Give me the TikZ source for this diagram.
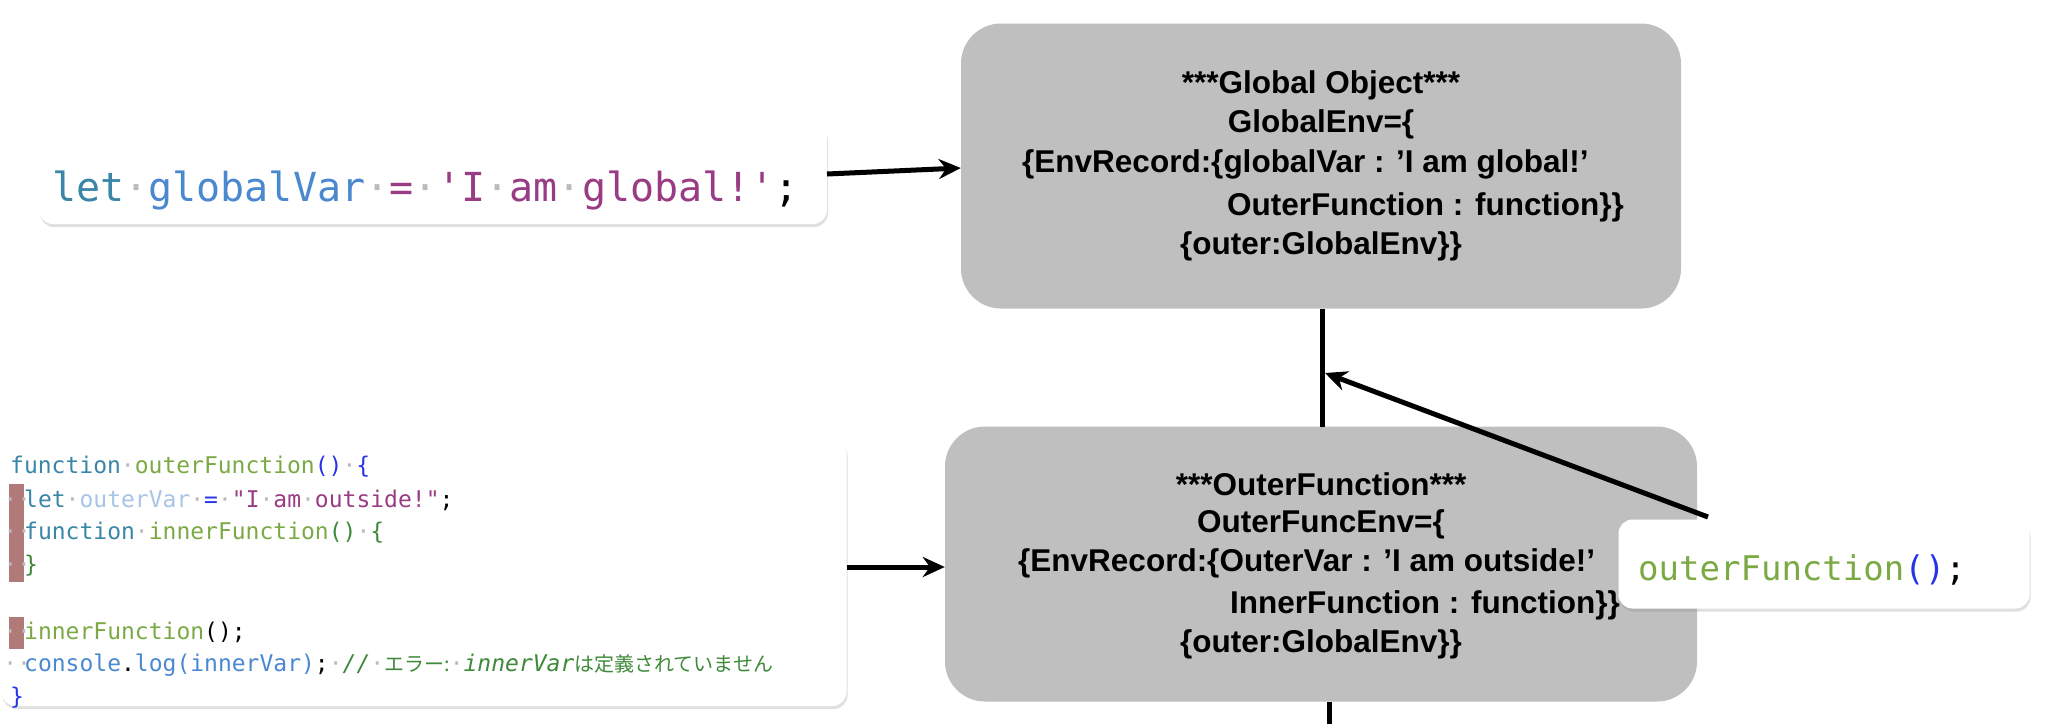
\documentclass[tikz,border=0pt]{standalone}
\usepackage{fontspec}
\setmainfont{Liberation Sans}[Ligatures=ResetAll]
\setmonofont{DejaVu Sans Mono}
\newfontfamily\cjk{Noto Sans CJK JP}
\usetikzlibrary{shadows,arrows.meta}
\definecolor{kw}{HTML}{3A86A8}
\definecolor{fn}{HTML}{7BAA45}
\definecolor{pb}{HTML}{2633E8}
\definecolor{vr}{HTML}{4A88D0}
\definecolor{lv}{HTML}{A8C4E6}
\definecolor{st}{HTML}{9A3C84}
\definecolor{dg}{HTML}{3F8A3A}
\definecolor{rose}{HTML}{B07A78}
\definecolor{dt}{HTML}{BBBBBB}
\tikzset{
 env/.style={fill=black!25,rounded corners=40pt,draw=none},
 card/.style={fill=white,rounded corners=14pt,drop shadow={opacity=0.25,shadow xshift=1pt,shadow yshift=-3pt}},
 lbl/.style={font=\bfseries\fontsize{31.5}{36}\selectfont,inner sep=0pt},
 code/.style={font=\ttfamily\fontsize{23}{28}\selectfont,inner sep=0pt,anchor=west},
 conn/.style={line width=5pt,-{Stealth[length=22pt,width=20pt]}},
 plain/.style={line width=5pt}
}
\newcommand{\dd}{\textcolor{dt}{·}}
\newcommand{\ind}{\textcolor{dt}{\makebox[14pt]{··}}}
\begin{document}
\begin{tikzpicture}[x=1pt,y=-1pt]
\useasboundingbox (0,0) rectangle (2052,724);
% Global env box
\node[env,minimum width=720pt,minimum height=285pt] (g) at (1321,166) {};
\node[lbl] (g1) at (1321,85) {***Global Object***};
\node[lbl] (g2) at (1321,124) {GlobalEnv=\{};
\node[lbl,anchor=west] (g3) at (1022,164) {\{EnvRecord:\{globalVar : 'I am global!'};
\node[lbl,anchor=west] (g4) at (1227,207) {OuterFunction : function\}\}};
\node[lbl] (g5) at (1321,246) {\{outer:GlobalEnv\}\}};
% Outer env box
\node[env,minimum width=752pt,minimum height=275pt] (o) at (1321,564) {};
\node[lbl] (o1) at (1321,484) {***OuterFunction***};
\node[lbl] (o2) at (1321,524) {OuterFuncEnv=\{};
\node[lbl,anchor=west] (o3) at (1018,563) {\{EnvRecord:\{OuterVar : 'I am outside!'};
\node[lbl,anchor=west] (o4) at (1230,605) {InnerFunction : function\}\}};
\node[lbl] (o5) at (1321,644) {\{outer:GlobalEnv\}\}};
% top snippet
\node[card,minimum width=788pt,minimum height=100pt] (s1) at (433,174) {};
\node[code,font=\ttfamily\fontsize{40}{46}\selectfont] (s1t) at (52,190) {\textcolor{kw}{let}\dd\textcolor{vr}{globalVar}\dd\textcolor{st}{=}\dd\textcolor{st}{'I\dd am\dd global!'};};
% left code
\node[card,minimum width=845pt,minimum height=268pt] (s2) at (424,572) {};
\fill[rose] (9,484) rectangle (24,582);
\fill[rose] (9,617) rectangle (24,649);
\node[code] (c1) at (10,467) {\textcolor{kw}{function}\dd\textcolor{fn}{outerFunction}\textcolor{pb}{()}\dd\textcolor{pb}{\{}};
\node[code] (c2) at (10,500) {\ind\textcolor{kw}{let}\dd\textcolor{lv}{outerVar}\dd\textcolor{pb}{=}\dd\textcolor{st}{"I\dd am\dd outside!"};};
\node[code] (c3) at (10,533) {\ind\textcolor{kw}{function}\dd\textcolor{fn}{innerFunction}\textcolor{dg}{()}\dd\textcolor{dg}{\{}};
\node[code] (c4) at (10,566) {\ind\textcolor{dg}{\}}};
\node[code] (c5) at (10,632) {\ind\textcolor{fn}{innerFunction}();};
\node[code] (c6) at (10,665) {\ind\textcolor{vr}{console}.\textcolor{vr}{log(innerVar)};\dd\textcolor{dg}{\textit{//}\dd{\cjk\fontsize{20}{24}\selectfont エラー:}\dd\textit{innerVar}{\cjk\fontsize{20}{24}\selectfont は定義されていません}}};
\node[code] (c7) at (10,698) {\textcolor{pb}{\}}};
% call snippet
\node[card,minimum width=411pt,minimum height=89pt] (s3) at (1824,564) {};
\node[code,font=\ttfamily\fontsize{34}{40}\selectfont] (s3t) at (1638,570) {\textcolor{fn}{outerFunction}\textcolor{pb}{()};};
% connectors
\coordinate (hit) at (1325,373);
\coordinate (bot) at (1329,724);
\coordinate (ostart) at (1708,517);
\draw[plain] (1322,309) -- (1322,427);
\draw[plain] (1329,702) -- (bot);
\draw[conn] (827,174) -- (g.west|-0,168);
\draw[conn] (s2.east|-0,567) -- (o.west|-0,567);
\draw[conn] (ostart) -- (hit);
\end{tikzpicture}
\end{document}
